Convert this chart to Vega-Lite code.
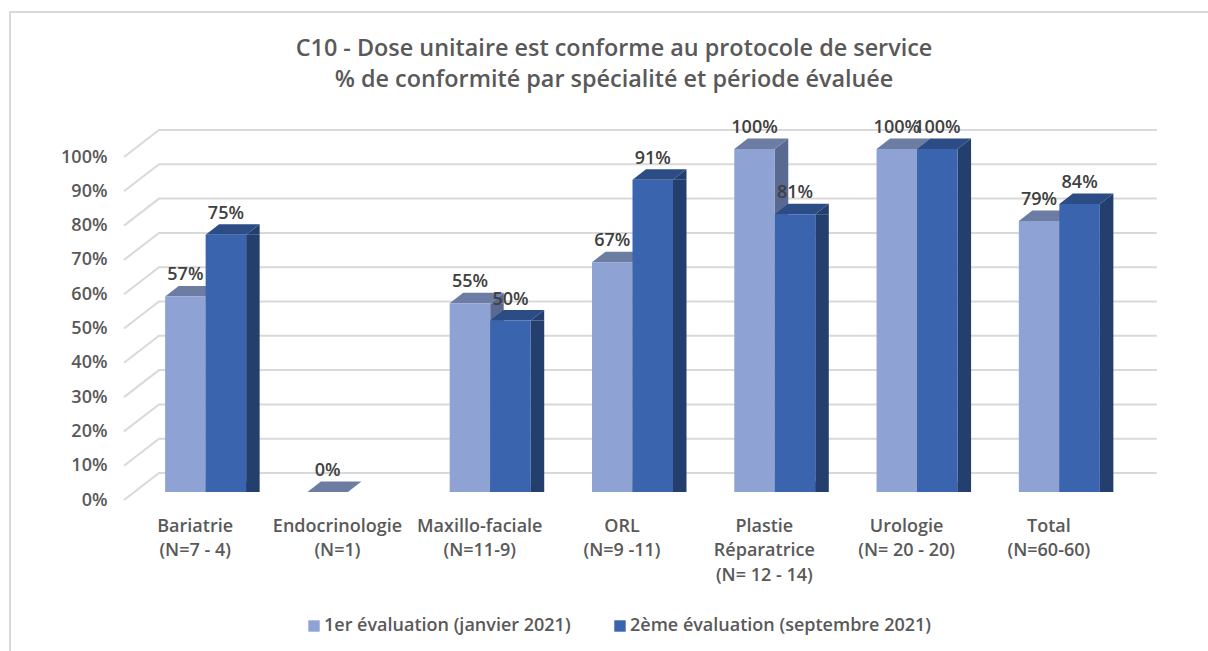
{
"$schema":"https://vega.github.io/schema/vega-lite/v6.json",
"width":996,"height":343,
"autosize":"none",
"padding":{"left":124,"top":157,"right":88,"bottom":151},
"background":"white",
"config":{"view":{"stroke":null},"font":"Open Sans","axisY":{"title":null,"values":[0,0.1,0.2,0.3,0.4,0.5,0.6,0.7,0.8,0.9,1],"tickCount":11,"format":".0%","labelOverlap":false,"grid":false,"domain":false,"ticks":false,"labelPadding":17,"labelFont":"Open Sans","labelFontSize":18,"labelFontWeight":600,"labelColor":"#595959"}},
"title":{"text":["C10 - Dose unitaire est conforme au protocole de service","% de conformité par spécialité et période évaluée"],"font":"Open Sans","fontSize":23.4,"fontWeight":600,"color":"#595959","lineHeight":31,"anchor":"middle","dx":-8,"offset":-102,"baseline":"alphabetic"},
"datasets":{
"bars":[
{"specialite":"Bariatrie|(N=7 - 4)","periode":"1er évaluation (janvier 2021)","conformite":0.57},
{"specialite":"Bariatrie|(N=7 - 4)","periode":"2ème évaluation (septembre 2021)","conformite":0.75},
{"specialite":"Endocrinologie|(N=1)","periode":"1er évaluation (janvier 2021)","conformite":0},
{"specialite":"Maxillo-faciale|(N=11-9)","periode":"1er évaluation (janvier 2021)","conformite":0.55},
{"specialite":"Maxillo-faciale|(N=11-9)","periode":"2ème évaluation (septembre 2021)","conformite":0.5},
{"specialite":"ORL|(N=9 -11)","periode":"1er évaluation (janvier 2021)","conformite":0.67},
{"specialite":"ORL|(N=9 -11)","periode":"2ème évaluation (septembre 2021)","conformite":0.91},
{"specialite":"Plastie|Réparatrice|(N= 12 - 14)","periode":"1er évaluation (janvier 2021)","conformite":1},
{"specialite":"Plastie|Réparatrice|(N= 12 - 14)","periode":"2ème évaluation (septembre 2021)","conformite":0.81},
{"specialite":"Urologie|(N= 20 - 20)","periode":"1er évaluation (janvier 2021)","conformite":1},
{"specialite":"Urologie|(N= 20 - 20)","periode":"2ème évaluation (septembre 2021)","conformite":1},
{"specialite":"Total|(N=60-60)","periode":"1er évaluation (janvier 2021)","conformite":0.79},
{"specialite":"Total|(N=60-60)","periode":"2ème évaluation (septembre 2021)","conformite":0.84}
],
"levels":[{"niveau":0},{"niveau":0.1},{"niveau":0.2},{"niveau":0.3},{"niveau":0.4},{"niveau":0.5},{"niveau":0.6},{"niveau":0.7},{"niveau":0.8},{"niveau":0.9},{"niveau":1}]
},
"layer":[
{"data":{"name":"levels"},
 "mark":{"type":"point","shape":"M0,0L1,-0.771L29.51,-0.771","size":4900,"filled":false,"stroke":"#D9D9D9","strokeWidth":2,"opacity":1,"clip":false},
 "encoding":{"y":{"field":"niveau","type":"quantitative","scale":{"domain":[0,1],"nice":false},
   "axis":{"title":null,"values":[0,0.1,0.2,0.3,0.4,0.5,0.6,0.7,0.8,0.9,1],"tickCount":11,"format":".0%","labelOverlap":false}},
  "x":{"datum":"Bariatrie|(N=7 - 4)","type":"nominal","bandPosition":0}}},
{"data":{"values":[{"haut":1.423}]},
 "mark":{"type":"point","shape":"M-3.257,18.6L-3.257,0L31,0","size":4900,"filled":false,"stroke":"#D9D9D9","strokeWidth":2,"opacity":1,"clip":false},
 "encoding":{"y":{"field":"haut","type":"quantitative","axis":{"title":null,"values":[0,0.1,0.2,0.3,0.4,0.5,0.6,0.7,0.8,0.9,1],"tickCount":11,"format":".0%","labelOverlap":false}},
  "x":{"datum":"Bariatrie|(N=7 - 4)","type":"nominal","bandPosition":0}}},
{"data":{"name":"bars"},
 "encoding":{
  "x":{"field":"specialite","type":"nominal","sort":null,"scale":{"domain":["Bariatrie|(N=7 - 4)","Endocrinologie|(N=1)","Maxillo-faciale|(N=11-9)","ORL|(N=9 -11)","Plastie|Réparatrice|(N= 12 - 14)","Urologie|(N= 20 - 20)","Total|(N=60-60)"],"paddingInner":0,"paddingOuter":0},
    "axis":{"title":null,"labelExpr":"split(datum.value,'|')","labelAngle":0,"labelAlign":"center","labelBaseline":"top","labelPadding":17,"labelLimit":300,"labelLineHeight":24.5,"domain":false,"ticks":false,"grid":false,"labelFont":"Open Sans","labelFontSize":18,"labelFontWeight":600,"labelColor":"#595959"}},
  "y":{"field":"conformite","type":"quantitative","axis":{"title":null,"values":[0,0.1,0.2,0.3,0.4,0.5,0.6,0.7,0.8,0.9,1],"tickCount":11,"format":".0%","labelOverlap":false}}
 },
 "layer":[
  {"transform":[{"filter":"datum.conformite>0"}],
   "mark":{"type":"bar","width":13.5,"yOffset":-8,"y2Offset":-18.5},
   "encoding":{
    "xOffset":{"field":"periode","type":"nominal","sort":null,"scale":{"type":"band","range":[37.5,179.78],"paddingInner":0,"paddingOuter":0.756}},
    "color":{"field":"periode","type":"nominal","legend":null,"sort":null,"scale":{"range":["#59698F","#243E6E"]}}}},
  {"transform":[{"filter":"datum.conformite>0"}],
   "mark":{"type":"point","shape":"M0.75,0L1.25,-0.389L1.25,0Z","size":2916,"filled":true,"opacity":1,"strokeWidth":0,"yOffset":-8},
   "encoding":{
    "xOffset":{"field":"periode","type":"nominal","sort":null,"scale":{"type":"band","range":[10.5,152.78],"paddingInner":0,"paddingOuter":0.756}},
    "color":{"field":"periode","type":"nominal","legend":null,"sort":null,"scale":{"range":["#59698F","#243E6E"]}}}},
  {"transform":[{"filter":"datum.conformite>0"}],
   "mark":{"type":"point","shape":"M0.75,-0.389L1.25,-0.389L0.75,0Z","size":2916,"filled":true,"opacity":1,"strokeWidth":0,"yOffset":-8},
   "encoding":{"y":{"datum":0,"type":"quantitative","axis":{"title":null,"values":[0,0.1,0.2,0.3,0.4,0.5,0.6,0.7,0.8,0.9,1],"tickCount":11,"format":".0%","labelOverlap":false}},
    "xOffset":{"field":"periode","type":"nominal","sort":null,"scale":{"type":"band","range":[10.5,152.78],"paddingInner":0,"paddingOuter":0.756}},
    "color":{"field":"periode","type":"nominal","legend":null,"sort":null,"scale":{"range":["#59698F","#243E6E"]}}}},
  {"mark":{"type":"point","shape":"M-0.75,0L0.75,0L1.25,-0.389L-0.25,-0.389Z","size":2916,"filled":true,"opacity":1,"strokeWidth":0,"yOffset":-8},
   "encoding":{
    "xOffset":{"field":"periode","type":"nominal","sort":null,"scale":{"type":"band","range":[10.5,152.78],"paddingInner":0,"paddingOuter":0.756}},
    "color":{"field":"periode","type":"nominal","legend":null,"sort":null,"scale":{"range":["#6C7CA3","#2B4C84"]}}}},
  {"mark":{"type":"bar","yOffset":-8,"y2Offset":-8},
   "encoding":{
    "xOffset":{"field":"periode","type":"nominal","sort":null,"scale":{"type":"band","range":[10.5,152.78],"paddingInner":0,"paddingOuter":0.756}},
    "color":{"field":"periode","type":"nominal","sort":null,"title":null,"scale":{"range":["#8FA2D4","#3A64AE"]},
     "legend":{"orient":"none","legendX":181,"legendY":460,"direction":"horizontal","columns":2,"symbolType":"square","symbolSize":130,"symbolStrokeWidth":0,"columnPadding":40,"labelFont":"Open Sans","labelFontSize":18,"labelFontWeight":600,"labelColor":"#595959","labelLimit":340,"labelOffset":1}}}},
  {"mark":{"type":"text","align":"center","baseline":"middle","yOffset":-29,"font":"Open Sans","fontSize":18,"fontWeight":600,"color":"#404040"},
   "encoding":{
    "xOffset":{"field":"periode","type":"nominal","sort":null,"scale":{"type":"band","range":[10.5,152.78],"paddingInner":0,"paddingOuter":0.756}},
    "text":{"field":"conformite","type":"quantitative","format":".0%"}}}
 ],
 "resolve":{"scale":{"color":"independent","xOffset":"independent"}}
}
],
"resolve":{"scale":{"color":"independent"}}
}
